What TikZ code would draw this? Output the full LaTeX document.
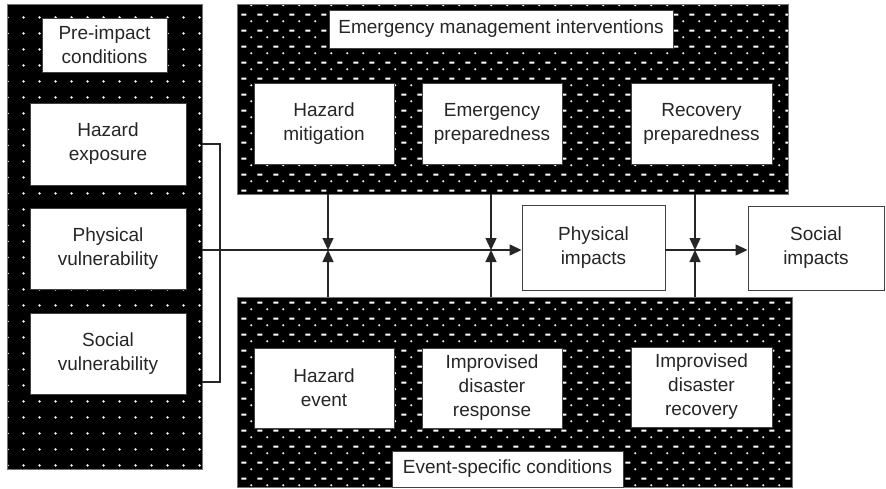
\documentclass[tikz,border=0pt]{standalone}
\usepackage{fontspec}
\setmainfont{Liberation Sans}
\usetikzlibrary{patterns.meta, arrows.meta}

% white dot grid on black panels
\tikzdeclarepattern{
  name=dotgrid,
  type=uncolored,
  bounding box={(0pt,0pt) and (16pt,16pt)},
  tile size={(16pt,16pt)},
  code={\fill (8pt,8pt) circle (1.4pt);}
}
% rows of short dashes and dots
\tikzdeclarepattern{
  name=dashdot,
  type=uncolored,
  bounding box={(0pt,0pt) and (16pt,16pt)},
  tile size={(16pt,16pt)},
  code={\fill (1.5pt,9.8pt) rectangle (6.8pt,11.9pt);
        \fill (12pt,4pt) circle (1.2pt);}
}

\tikzset{
  panel/.style={draw=black!55, line width=0.8pt, preaction={fill=black},
                pattern color=white, inner sep=0pt},
  textbox/.style={draw=black!75, line width=0.9pt, fill=white, inner sep=0pt,
                  align=center, text=black!85,
                  font=\fontsize{19}{24}\selectfont},
  link/.style={line width=1.4pt, draw=black!85},
  arr/.style={link, -{Triangle[length=12pt,width=11pt]}}
}

\begin{document}
\begin{tikzpicture}[x=1pt, y=-1pt]
\useasboundingbox (0,0) rectangle (886,489);

% panels
\node[panel, pattern=dotgrid, minimum width=195pt, minimum height=465pt] (lbg) at (104.5,236.5) {};
\node[panel, pattern=dashdot, minimum width=551pt, minimum height=190pt] (tbg) at (512.5,99) {};
\node[panel, pattern=dashdot, minimum width=555pt, minimum height=190pt] (bbg) at (514.5,392) {};

% pre-impact conditions
\node[textbox, minimum width=125pt, minimum height=54pt] (pre) at (104.5,45) {Pre-impact\\conditions};
\node[textbox, minimum width=156pt, minimum height=82pt] (hexp) at (108,144) {Hazard\\exposure};
\node[textbox, minimum width=156pt, minimum height=81pt] (pvul) at (108,248.5) {Physical\\vulnerability};
\node[textbox, minimum width=156pt, minimum height=81pt] (svul) at (108,353.5) {Social\\vulnerability};

% emergency management interventions
\node[textbox, minimum width=344pt, minimum height=38pt] (emi) at (501,29) {Emergency management interventions};
\node[textbox, minimum width=140pt, minimum height=81pt] (hmit) at (324,123.5) {Hazard\\mitigation};
\node[textbox, minimum width=140pt, minimum height=81pt] (eprep) at (492,123.5) {Emergency\\preparedness};
\node[textbox, minimum width=141pt, minimum height=81pt] (rprep) at (701.5,123.5) {Recovery\\preparedness};

% event-specific conditions
\node[textbox, minimum width=140pt, minimum height=80pt] (hev) at (324,388) {Hazard\\event};
\node[textbox, minimum width=140pt, minimum height=80pt] (idresp) at (492,388) {Improvised\\disaster\\response};
\node[textbox, minimum width=141pt, minimum height=80pt] (idrec) at (701.5,387) {Improvised\\disaster\\recovery};
\node[textbox, minimum width=231pt, minimum height=36pt] (esc) at (507.5,469) {Event-specific conditions};

% impacts
\node[textbox, minimum width=143pt, minimum height=85pt] (pimp) at (593.5,247.5) {Physical\\impacts};
\node[textbox, minimum width=136pt, minimum height=84pt] (simp) at (816,248) {Social\\impacts};

% junctions on the main flow line
\coordinate (j1) at (328,250);
\coordinate (j2) at (491,250);
\coordinate (j3) at (695,250);
\coordinate (bx) at (220,250);

% bracket gathering the pre-impact conditions
\draw[link] (lbg.east |- 0,144) -| (bx |- 0,382) -- (lbg.east |- 0,382);

% main flow
\draw[arr] (lbg.east |- j1) -- (pimp.west |- j1);
\draw[arr] (pimp.east |- j3) -- (simp.west |- j3);

% interventions and conditions acting on the flow
\foreach \j in {j1,j2,j3}{
  \draw[arr] (\j |- tbg.south) -- (\j);
  \draw[arr] (\j |- bbg.north) -- (\j);
}
\end{tikzpicture}
\end{document}
